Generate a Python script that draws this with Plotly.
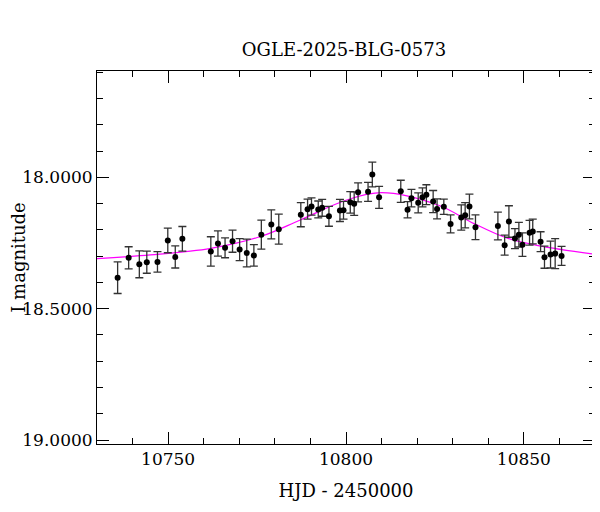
import plotly.graph_objects as go

hjd = [10735.8, 10738.9, 10741.9, 10744.0, 10747.0, 10749.9, 10752.0, 10754.0,
       10762.0, 10764.0, 10766.0, 10768.1, 10770.1, 10772.1, 10774.1, 10776.2,
       10779.0, 10781.1, 10787.3, 10789.2, 10790.3, 10792.2, 10793.3, 10795.2,
       10798.3, 10799.3, 10801.2, 10802.3, 10803.4, 10806.2, 10807.4, 10809.3,
       10815.4, 10817.3, 10818.4, 10820.3, 10821.5, 10822.6, 10824.5, 10825.6,
       10827.5, 10829.4, 10832.4, 10833.5, 10834.7, 10836.4, 10842.7, 10844.6,
       10845.8, 10847.5, 10848.6, 10849.6, 10851.6, 10852.5, 10854.7, 10855.8,
       10857.5, 10858.8, 10860.6]
mag = [18.382, 18.306, 18.331, 18.323, 18.322, 18.240, 18.303, 18.234,
       18.282, 18.252, 18.268, 18.243, 18.275, 18.288, 18.297, 18.218,
       18.179, 18.197, 18.142, 18.121, 18.111, 18.122, 18.116, 18.148,
       18.126, 18.125, 18.095, 18.100, 18.057, 18.055, 17.989, 18.076,
       18.053, 18.123, 18.079, 18.097, 18.076, 18.066, 18.092, 18.120,
       18.112, 18.177, 18.153, 18.144, 18.111, 18.190, 18.185, 18.258,
       18.168, 18.233, 18.218, 18.256, 18.211, 18.206, 18.245, 18.304,
       18.294, 18.290, 18.299]
err = [0.060, 0.042, 0.051, 0.042, 0.039, 0.047, 0.042, 0.047,
       0.056, 0.048, 0.038, 0.042, 0.042, 0.053, 0.041, 0.055,
       0.055, 0.057, 0.046, 0.038, 0.033, 0.032, 0.032, 0.038,
       0.042, 0.034, 0.041, 0.045, 0.036, 0.036, 0.047, 0.042,
       0.042, 0.031, 0.033, 0.038, 0.036, 0.038, 0.042, 0.038,
       0.029, 0.034, 0.048, 0.048, 0.047, 0.047, 0.053, 0.038,
       0.060, 0.038, 0.047, 0.045, 0.047, 0.047, 0.038, 0.042,
       0.051, 0.057, 0.036]

# model curve
model_t = [10730, 10745, 10762, 10776, 10787, 10800, 10810, 10826, 10836,
           10845, 10854, 10870]
model_m = [18.309, 18.295, 18.270, 18.225, 18.163, 18.087, 18.058, 18.106,
           18.176, 18.230, 18.260, 18.293]

fig = go.Figure()
fig.add_trace(go.Scatter(
    x=model_t, y=model_m, mode="lines", line=dict(color="#ff00ff", width=1.2, shape="spline"),
))
fig.add_trace(go.Scatter(
    x=hjd, y=mag, mode="markers",
    marker=dict(color="black", size=6),
    error_y=dict(type="data", array=err, color="#333333", thickness=1.3, width=4),
))

axis_common = dict(
    showgrid=False, zeroline=False, mirror="allticks", showline=True,
    linecolor="black", linewidth=1, ticks="inside", ticklen=12,
    tickcolor="black", tickfont=dict(size=17), automargin=False,
    minor=dict(ticks="inside", ticklen=6, tickcolor="black"),
)
fig.update_xaxes(range=[10730, 10870], dtick=50, minor_dtick=10, tickformat="d",
                 title=dict(text="HJD - 2450000", font=dict(size=18), standoff=15),
                 **axis_common)
fig.update_yaxes(range=[19.015, 17.595], dtick=0.5, minor_dtick=0.1, tickformat="g",
                 title=dict(text="I magnitude", font=dict(size=18), standoff=12),
                 **axis_common)
fig.update_layout(
    width=600, height=512,
    title=dict(text="OGLE-2025-BLG-0573", x=0.56, xanchor="center", y=0.93,
               font=dict(size=18), automargin=False),
    font=dict(family="DejaVu Serif", color="black"),
    showlegend=False,
    plot_bgcolor="white", paper_bgcolor="white",
    margin=dict(l=89, r=13, t=63, b=76),
)
fig.write_html("out.html")
